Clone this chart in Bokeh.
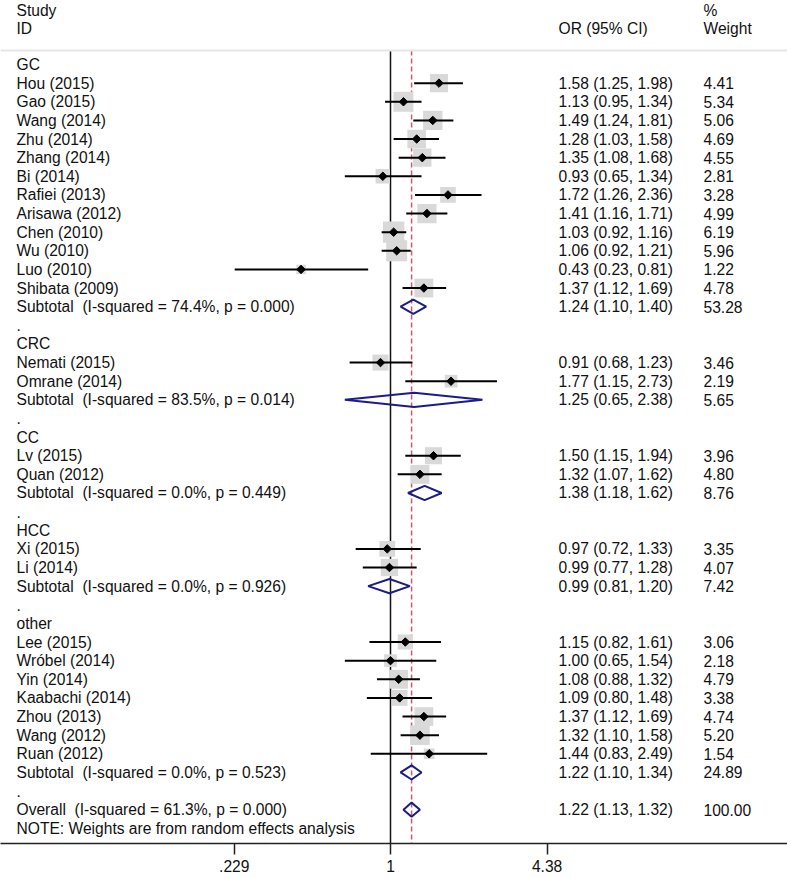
import numpy as np
from bokeh.plotting import figure
from bokeh.models import Range1d, FixedTicker, Span, ColumnDataSource
from bokeh.core.properties import value
from bokeh.embed import file_html
from bokeh.resources import INLINE

# ---------------- data ----------------
group_names = ["GC", "CRC", "CC", "HCC", "other"]

study_names = [
    "Hou (2015)", "Gao (2015)", "Wang (2014)", "Zhu (2014)", "Zhang (2014)", "Bi (2014)",
    "Rafiei (2013)", "Arisawa (2012)", "Chen (2010)", "Wu (2010)", "Luo (2010)", "Shibata (2009)",
    "Nemati (2015)", "Omrane (2014)",
    "Lv (2015)", "Quan (2012)",
    "Xi (2015)", "Li (2014)",
    "Lee (2015)", "Wróbel (2014)", "Yin (2014)", "Kaabachi (2014)", "Zhou (2013)", "Wang (2012)", "Ruan (2012)",
]
study_group = ["GC"] * 12 + ["CRC"] * 2 + ["CC"] * 2 + ["HCC"] * 2 + ["other"] * 7
study_or = [1.58, 1.13, 1.49, 1.28, 1.35, 0.93, 1.72, 1.41, 1.03, 1.06, 0.43, 1.37,
            0.91, 1.77,
            1.50, 1.32,
            0.97, 0.99,
            1.15, 1.00, 1.08, 1.09, 1.37, 1.32, 1.44]
study_lo = [1.25, 0.95, 1.24, 1.03, 1.08, 0.65, 1.26, 1.16, 0.92, 0.92, 0.23, 1.12,
            0.68, 1.15,
            1.15, 1.07,
            0.72, 0.77,
            0.82, 0.65, 0.88, 0.80, 1.12, 1.10, 0.83]
study_hi = [1.98, 1.34, 1.81, 1.58, 1.68, 1.34, 2.36, 1.71, 1.16, 1.21, 0.81, 1.69,
            1.23, 2.73,
            1.94, 1.62,
            1.33, 1.28,
            1.61, 1.54, 1.32, 1.48, 1.69, 1.58, 2.49]
study_weight = [4.41, 5.34, 5.06, 4.69, 4.55, 2.81, 3.28, 4.99, 6.19, 5.96, 1.22, 4.78,
                3.46, 2.19,
                3.96, 4.80,
                3.35, 4.07,
                3.06, 2.18, 4.79, 3.38, 4.74, 5.20, 1.54]

sub_i2 = ["74.4", "83.5", "0.0", "0.0", "0.0"]
sub_p = ["0.000", "0.014", "0.449", "0.926", "0.523"]
sub_or = [1.24, 1.25, 1.38, 0.99, 1.22]
sub_lo = [1.10, 0.65, 1.18, 0.81, 1.10]
sub_hi = [1.40, 2.38, 1.62, 1.20, 1.34]
sub_weight = [53.28, 5.65, 8.76, 7.42, 24.89]

overall_i2 = "61.3"
overall_p = "0.000"
overall_or = 1.22
overall_lo = 1.13
overall_hi = 1.32
overall_weight = 100.00

tick_values = [0.229, 1, 4.38]
tick_labels = [".229", "1", "4.38"]

note_text = "NOTE: Weights are from random effects analysis"

# ---------------- layout (pixel geometry of the figure) ----------------
PX_ONE = 390.0      # x of OR = 1
PX_PER_LN = 106.0   # pixels per unit of ln(OR)
ROW0 = 64.0         # y of first row
ROW_H = 18.63       # row spacing
FIG_W, FIG_H = 787, 878
FRAME_TOP, FRAME_BOTTOM = 0.0, 843.0
FRAME_LEFT, FRAME_RIGHT = 0.0, 787.0
SP2 = "\u00a0 "     # preserved double space


def xd(px):
    return float(np.exp((px - PX_ONE) / PX_PER_LN))


def yd(py):
    return (py - ROW0) / ROW_H


def fmt_ci(o, l, h):
    return f"{o:.2f} ({l:.2f}, {h:.2f})"


# ---------------- build rows ----------------
lab_y, lab_t = [], []
ci_y, ci_t, w_t = [], [], []
st_y, st_or, st_lo, st_hi, st_w = [], [], [], [], []
dm_xs, dm_ys = [], []

row = 0
for gi, g in enumerate(group_names):
    lab_y.append(row); lab_t.append(g)
    row += 1
    for i, name in enumerate(study_names):
        if study_group[i] != g:
            continue
        lab_y.append(row); lab_t.append(name)
        ci_y.append(row); ci_t.append(fmt_ci(study_or[i], study_lo[i], study_hi[i]))
        w_t.append(f"{study_weight[i]:.2f}")
        st_y.append(row); st_or.append(study_or[i]); st_lo.append(study_lo[i])
        st_hi.append(study_hi[i]); st_w.append(study_weight[i])
        row += 1
    lab_y.append(row); lab_t.append(f"Subtotal{SP2}(I-squared = {sub_i2[gi]}%, p = {sub_p[gi]})")
    ci_y.append(row); ci_t.append(fmt_ci(sub_or[gi], sub_lo[gi], sub_hi[gi]))
    w_t.append(f"{sub_weight[gi]:.2f}")
    dm_xs.append([sub_lo[gi], sub_or[gi], sub_hi[gi], sub_or[gi]])
    dm_ys.append([row, row - 0.38, row, row + 0.38])
    row += 1
    lab_y.append(row); lab_t.append(".")
    row += 1

lab_y.append(row); lab_t.append(f"Overall{SP2}(I-squared = {overall_i2}%, p = {overall_p})")
ci_y.append(row); ci_t.append(fmt_ci(overall_or, overall_lo, overall_hi))
w_t.append(f"{overall_weight:.2f}")
dm_xs.append([overall_lo, overall_or, overall_hi, overall_or])
dm_ys.append([row, row - 0.38, row, row + 0.38])
row += 1
lab_y.append(row); lab_t.append(note_text)

# ---------------- figure ----------------
p = figure(
    width=FIG_W, height=FIG_H,
    x_axis_type="log",
    x_range=Range1d(xd(FRAME_LEFT), xd(FRAME_RIGHT)),
    y_range=Range1d(yd(FRAME_BOTTOM), yd(FRAME_TOP)),
    output_backend="svg", toolbar_location=None,
    min_border_left=0, min_border_right=0, min_border_top=0,
    min_border_bottom=FIG_H - int(FRAME_BOTTOM),
)
p.yaxis.visible = False
p.xgrid.visible = False
p.ygrid.visible = False
p.outline_line_color = None
p.background_fill_color = "white"
p.border_fill_color = "white"

ax = p.xaxis[0]
ax.ticker = FixedTicker(ticks=tick_values)
ax.major_label_overrides = {tv: tl for tv, tl in zip(tick_values, tick_labels)}
ax.minor_tick_line_color = None
ax.axis_line_color = "#222222"
ax.axis_line_width = 1.5
ax.major_tick_line_color = "#222222"
ax.major_tick_line_width = 1.5
ax.major_tick_out = 11
ax.major_tick_in = 0
ax.major_label_standoff = 5
ax.major_label_text_font = "Liberation Sans"
ax.major_label_text_font_size = "15.6px"
ax.major_label_text_color = "#111111"

sep_y = yd(50)
p.add_layout(Span(location=sep_y, dimension="width", line_color="#e6e6e6", line_width=2))

# reference lines
p.segment(x0=[1], y0=[sep_y], x1=[1], y1=[yd(FRAME_BOTTOM)], line_color="#111111", line_width=1.5)
p.segment(x0=[overall_or], y0=[sep_y], x1=[overall_or], y1=[yd(FRAME_BOTTOM)],
          line_color="#c0606e", line_width=1.5, line_dash="5 3")

# weight boxes
src = ColumnDataSource(dict(y=st_y, o=st_or, lo=st_lo, hi=st_hi,
                            s=[8.6 * np.sqrt(w) for w in st_w]))
p.scatter(x="o", y="y", size="s", marker="square", source=src,
          fill_color="#d9d9d9", line_color=None)
# CIs
p.segment(x0="lo", y0="y", x1="hi", y1="y", source=src, line_color="black", line_width=2)
# point estimates
p.scatter(x="o", y="y", size=6, marker="square", angle=np.pi / 4, source=src,
          fill_color="black", line_color="black")

# pooled diamonds
p.patches(xs=dm_xs, ys=dm_ys, fill_color=None, line_color="#1b1b8a", line_width=2)

# text columns
font = value("Liberation Sans")
tkw = dict(text_font=font, text_font_size="15.6px", text_baseline="middle", text_color="#111111")

p.text(x=[xd(16)] * len(lab_y), y=lab_y, text=lab_t, **tkw)
p.text(x=[xd(558)] * len(ci_y), y=ci_y, text=ci_t, **tkw)
p.text(x=[xd(703)] * len(ci_y), y=ci_y, text=w_t, **tkw)

# headers
p.text(x=[xd(16), xd(16)], y=[yd(10), yd(28)], text=["Study", "ID"], **tkw)
p.text(x=[xd(558)], y=[yd(28)], text=["OR (95% CI)"], **tkw)
p.text(x=[xd(703), xd(703)], y=[yd(10), yd(28)], text=["%", "Weight"], **tkw)

open("out.html", "w").write(file_html(p, INLINE))
